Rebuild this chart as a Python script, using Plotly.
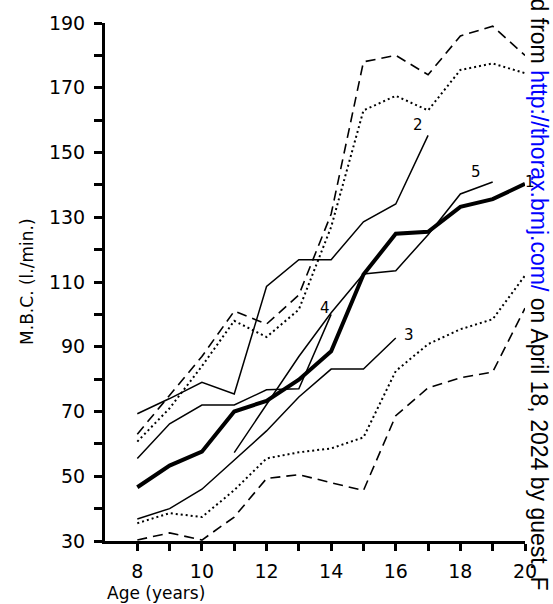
import plotly.graph_objects as go

# Age axis (years)
ages = list(range(8, 21))

# Maximum breathing capacity, l./min.
upper_dashed = [63, 75, 87, 101, 97, 106, 131, 178, 180, 174, 186, 189, 180]
upper_dotted = [60.7, 71, 84, 98, 93, 101.5, 127, 163, 167.5, 163, 175.5, 177.5, 174.5]
lower_dotted = [35.5, 38.6, 37.4, 45.7, 55.5, 57.4, 58.6, 62, 82.5, 90.8, 95.4, 98.5, 112]
lower_dashed = [30.3, 32.5, 30.3, 37.4, 49.3, 50.5, 48, 45.6, 68.7, 77.3, 80.4, 82.2, 101.9]

series1_ages = list(range(8, 21))
series1 = [46.6, 53.3, 57.6, 70, 73.3, 79.8, 88.6, 112.3, 124.9, 125.5, 133.2, 135.6, 140.3]
series2_ages = list(range(8, 18))
series2 = [69.3, 74, 79, 75.4, 108.6, 116.9, 116.9, 128.6, 134.1, 155.3]
series3_ages = list(range(8, 17))
series3 = [36.8, 40, 46, 54.9, 64, 74.5, 83.1, 83.1, 92.7]
series4_ages = list(range(8, 15))
series4 = [55.5, 66.2, 72, 72, 76.7, 77, 100]
series5_ages = list(range(11, 20))
series5 = [57.3, 72, 87, 100.5, 112.5, 113.5, 124.6, 137.2, 140.9]

# Curve number labels: (text, age, value)
curve_labels = [("2", 16.7, 158.5), ("5", 18.48, 144), ("1", 20.17, 141),
                ("4", 13.8, 102), ("3", 16.42, 93.5)]

y_tickvals = list(range(30, 191, 10))
y_ticktext = [str(v) if (v - 30) % 20 == 0 else "" for v in y_tickvals]
x_tickvals = list(range(8, 21))
x_ticktext = [str(v) if v % 2 == 0 else "" for v in x_tickvals]

X_RANGE = [7, 20]
Y_RANGE = [30, 190]

fig = go.Figure()

def add_line(x, y, width, dash="solid"):
    fig.add_trace(go.Scatter(x=x, y=y, mode="lines",
                             line=dict(color="black", width=width, dash=dash),
                             showlegend=False, hoverinfo="skip"))

add_line(ages, upper_dashed, 1.6, "10px,6px")
add_line(ages, upper_dotted, 2, "2px,3px")
add_line(ages, lower_dotted, 2, "2px,3px")
add_line(ages, lower_dashed, 1.6, "10px,6px")
add_line(series2_ages, series2, 1.5)
add_line(series3_ages, series3, 1.5)
add_line(series4_ages, series4, 1.5)
add_line(series5_ages, series5, 1.5)
add_line(series1_ages, series1, 4)

# Curve labels are placed in paper units so the one past the last year still shows
for txt, ax, ay in curve_labels:
    px = (ax - X_RANGE[0]) / (X_RANGE[1] - X_RANGE[0])
    py = (ay - Y_RANGE[0]) / (Y_RANGE[1] - Y_RANGE[0])
    fig.add_annotation(xref="paper", yref="paper", x=px, y=py, text=txt,
                       showarrow=False, xanchor="center", yanchor="middle",
                       font=dict(family="DejaVu Sans", size=15, color="black"))

# Axis titles
fig.add_annotation(xref="paper", yref="paper", x=-0.186, y=0.5,
                   text="M.B.C. (l./min.)", textangle=-90, showarrow=False,
                   xanchor="center", yanchor="middle",
                   font=dict(family="DejaVu Sans", size=17, color="black"))
fig.add_annotation(xref="paper", yref="paper", x=0.0, y=-0.1,
                   text="Age (years)", showarrow=False,
                   xanchor="left", yanchor="middle",
                   font=dict(family="DejaVu Sans", size=17, color="black"))

# Source note running down the right edge
fig.add_annotation(xref="paper", yref="paper", x=1.033, y=0.476,
                   text='d from <span style="color:#0000ff">http://thorax.bmj.com/</span>'
                        ' on April 18, 2024 by guest. F',
                   textangle=90, showarrow=False,
                   xanchor="center", yanchor="middle",
                   font=dict(family="Liberation Sans", size=23, color="black"))

fig.update_xaxes(range=X_RANGE, tickvals=x_tickvals, ticktext=x_ticktext,
                 ticks="outside", ticklen=7, tickwidth=2.5, tickcolor="black",
                 showline=True, linecolor="black", linewidth=3,
                 showgrid=False, zeroline=False, ticklabelstandoff=4,
                 tickfont=dict(family="DejaVu Sans", size=19, color="black"))
fig.update_yaxes(range=Y_RANGE, tickvals=y_tickvals, ticktext=y_ticktext,
                 ticks="outside", ticklen=8, tickwidth=2.5, tickcolor="black",
                 showline=True, linecolor="black", linewidth=3,
                 showgrid=False, zeroline=False, ticklabelstandoff=5,
                 tickfont=dict(family="DejaVu Sans", size=19, color="black"))

fig.update_layout(width=553, height=604,
                  margin=dict(l=105, r=28, t=20, b=63),
                  plot_bgcolor="white", paper_bgcolor="white")

fig.write_html("out.html")
